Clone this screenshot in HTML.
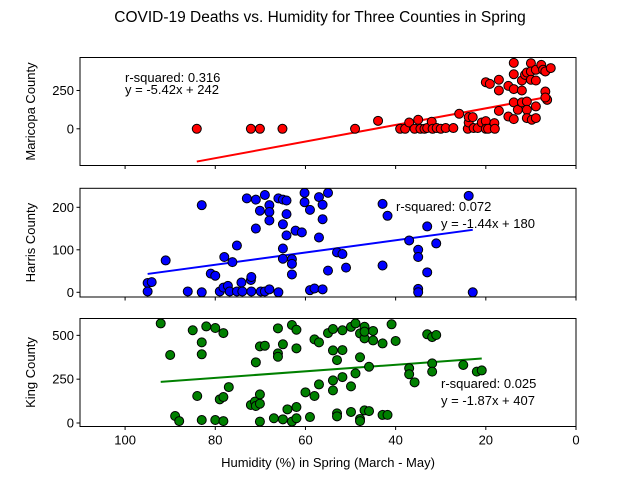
<!DOCTYPE html>
<html><head><meta charset="utf-8">
<style>
html,body{margin:0;padding:0;background:#fff;}
svg{display:block;font-family:"Liberation Sans","DejaVu Sans",sans-serif;}
</style></head>
<body>
<svg id="chart" width="640" height="480" viewBox="0 0 640 480" xmlns="http://www.w3.org/2000/svg">
<rect width="640" height="480" fill="#fff"/>
<text x="320" y="22" text-anchor="middle" font-size="15.5" fill="#000">COVID-19 Deaths vs. Humidity for Three Counties in Spring</text>
<text x="328" y="467" text-anchor="middle" font-size="13" fill="#000">Humidity (%) in Spring (March - May)</text>
<g id="plots"></g>
</svg>
<script>
const xTicks = [100, 80, 60, 40, 20, 0];
const maricopaX = [84.1,72.1,70.1,65.1,49,43.9,39,37.9,37,35.8,35,34.5,33.6,33,32,31.8,30.9,30,28.9,27.2,25.9,24,23.8,23.8,22.9,22.7,21.8,20.9,20,20,19.5,18.1,18,20,19.1,17.1,17.1,17.1,15,15,13.8,13.8,13.8,13.8,13.8,12.9,12,12,11.3,10.9,12,10.9,10.9,10.9,10,10,10,9.8,8.9,8.9,8.9,8.9,7.7,7.3,6.8,6.8,6.4,6.8,5.6];
const maricopaY = [0,0,0,0,0,52,0,0,41,0,59,0,0,5,46,0,5,0,5,5,98,0,41,76,76,5,5,41,50,0,0,37,0,304,293,320,250,117,280,80,430,356,259,172,63,124,250,315,352,367,172,178,124,70,428,374,320,59,385,315,146,70,417,385,374,243,189,204,396];
const harrisX = [95,95,94.1,91,86.1,83,83,81,80,79,78.2,78,77.2,76.8,76.2,75.2,75.2,74.2,74,73,72.1,72,72,71,71,70.1,69.9,69,69,68,68,68,68,66,66,65,65,65,65,64.2,64.2,64.2,63,63,63,62.2,60.8,60.2,60.2,59,59,58,57,57,56.2,56.2,56.2,55,55,53,51.8,51,42.9,42.9,41.8,37,35,35,35,35,33,33,31,23.8,22.9];
const harrisY = [22,2,24,75,2,205,0,44,39,2,11,83,15,2,71,110,2,23,2,221,29,36,2,218,150,192,2,229,2,205,189,169,7,221,0,218,160,103,79,216,184,134,78,67,42,145,141,234,212,194,5,9,224,129,206,172,7,234,51,94,90,58,208,63,180,122,100,83,8,0,155,47,115,227,0];
const kingX = [92.1,90,88.9,88,85,84,83,83,83,82,80,80,79,78.2,78.2,78.2,77,72.1,71.2,71,71,70.1,70.1,70.1,70.1,69,67,66.1,66.1,66.1,65,65,64,63,63,62,62,62,62,60,59,58,58,57,57,55,53.9,53.9,53.9,53.9,53,53,53,51.8,51.8,51.8,49.9,49.9,49.9,48.9,48.9,47.9,47.9,47.9,47.9,46.9,46.9,46.9,46.9,45.9,45.9,45,45,42.9,42.9,41.8,40.9,40,37,37,35.8,33,31.9,31.9,31.9,31,25,22,20.9];
const kingY = [568,388,40,11,529,154,460,392,17,551,542,17,135,513,148,11,205,103,122,97,346,437,163,110,8,441,27,540,397,378,449,21,78,559,8,532,426,91,27,175,34,477,154,460,220,513,536,414,243,186,359,55,38,529,416,262,548,209,63,568,283,511,375,23,11,549,483,72,521,321,68,525,471,454,46,46,563,468,312,278,232,506,490,340,293,502,331,293,300];
const maricopaYTicks = [0, 250];
const harrisYTicks = [0, 100, 200];
const kingYTicks = [0, 250, 500];
const fitSlopes = [-5.42, -1.44, -1.87];
const fitIntercepts = [242, 180, 407];
const rSquared = ["0.316", "0.072", "0.025"];

const NS = "http://www.w3.org/2000/svg";
const X0 = 80, X1 = 576;
function xScale(v){ return X0 + (110 - v) / 110 * (X1 - X0); }
function mk(tag, attrs, parent){
  const e = document.createElementNS(NS, tag);
  for (const k in attrs) e.setAttribute(k, attrs[k]);
  parent.appendChild(e); return e;
}
const panels = [
  {name:"maricopa", label:"Maricopa County", xs:maricopaX, ys:maricopaY, ticks:maricopaYTicks, top:57.5, bottom:165.5, y0:128.8, yPerUnit:0.1533, color:"#ff0000",
   ann:[[125,82],[125,94]]},
  {name:"harris", label:"Harris County", xs:harrisX, ys:harrisY, ticks:harrisYTicks, top:188.3, bottom:297, y0:292.3, yPerUnit:0.425, color:"#0000ff",
   ann:[[396,211],[441,228]]},
  {name:"king", label:"King County", xs:kingX, ys:kingY, ticks:kingYTicks, top:318.5, bottom:426.5, y0:423, yPerUnit:0.1753, color:"#008000",
   ann:[[441,388],[441,405]]}
];
const root = document.getElementById("plots");
panels.forEach((p, i) => {
  const yScale = v => p.y0 - v * p.yPerUnit;
  const g = mk("g", {}, root);
  
  
  const clipId = "clip" + i;
  const cp = mk("clipPath", {id: clipId}, g);
  mk("rect", {x:X0, y:p.top, width:X1-X0, height:p.bottom-p.top}, cp);
  // fit line
  const xmin = Math.min(...p.xs), xmax = Math.max(...p.xs);
  const ln = mk("line", {x1:xScale(xmax), y1:yScale(fitSlopes[i]*xmax+fitIntercepts[i]), x2:xScale(xmin), y2:yScale(fitSlopes[i]*xmin+fitIntercepts[i]), stroke:p.color, "stroke-width":2}, g);
  
  
  // points
  const pg = mk("g", {"clip-path":"url(#"+clipId+")"}, g);
  
  
  p.xs.forEach((xv, j) => {
    const c = mk("circle", {cx:xScale(xv), cy:yScale(p.ys[j]), r:4.5, fill:p.color, stroke:"#000", "stroke-width":1}, pg);
    
    
  });
  // frame
  const fr = mk("rect", {x:X0, y:p.top, width:X1-X0, height:p.bottom-p.top, fill:"none", stroke:"#000", "stroke-width":1}, g);
  
  
  // y ticks
  p.ticks.forEach(t => {
    const y = yScale(t);
    const tk = mk("line", {x1:X0-3.5, y1:y, x2:X0, y2:y, stroke:"#000", "stroke-width":1}, g);
    
    
    const tl = mk("text", {x:X0-6, y:y+4.5, "text-anchor":"end", "font-size":13, fill:"#000"}, g);
    tl.textContent = t;
    
    
  });
  // x ticks
  xTicks.forEach(t => {
    const x = xScale(t);
    const tk = mk("line", {x1:x, y1:p.bottom, x2:x, y2:p.bottom+3.5, stroke:"#000", "stroke-width":1}, g);
    
    
    if (i === 2) {
      const tl = mk("text", {x:x, y:p.bottom+18, "text-anchor":"middle", "font-size":13, fill:"#000"}, g);
      tl.textContent = t;
      
      
    }
  });
  // y label
  const cy = (p.top + p.bottom) / 2;
  const yl = mk("text", {x:0, y:0, transform:"translate(35,"+cy+") rotate(-90)", "text-anchor":"middle", "font-size":13, fill:"#000"}, g);
  yl.textContent = p.label;
  
  
  // annotations
  const a1 = mk("text", {x:p.ann[0][0], y:p.ann[0][1], "font-size":13, fill:"#000"}, g);
  a1.textContent = "r-squared: " + rSquared[i];
  
  
  const a2 = mk("text", {x:p.ann[1][0], y:p.ann[1][1], "font-size":13, fill:"#000"}, g);
  a2.textContent = "y = " + fitSlopes[i].toFixed(2) + "x + " + fitIntercepts[i];
  
  
});
</script>
</body></html>
